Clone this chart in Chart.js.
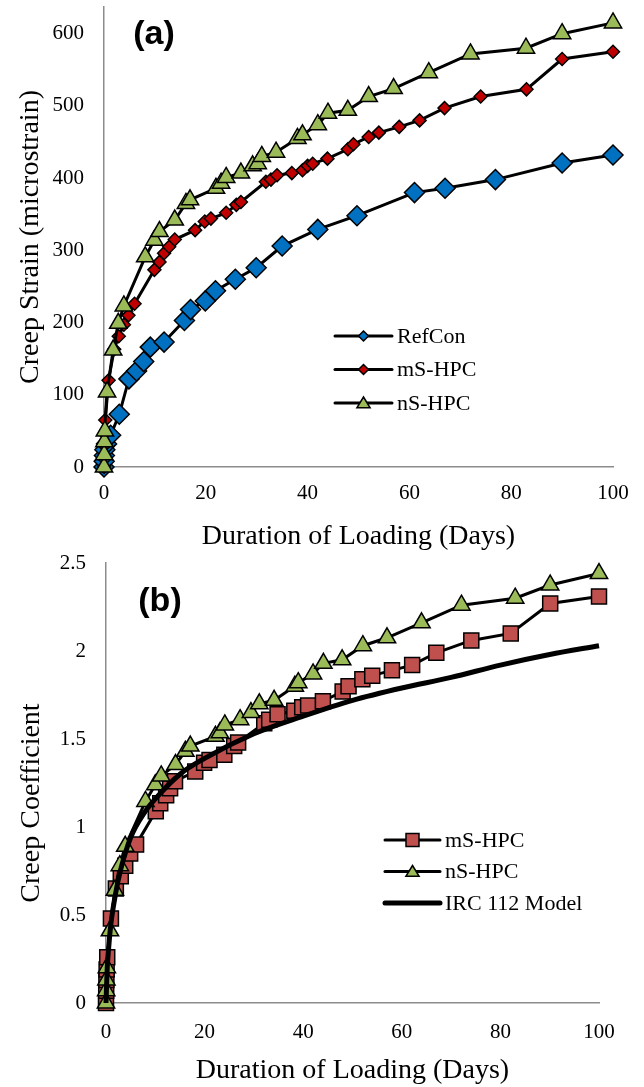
<!DOCTYPE html>
<html><head><meta charset="utf-8">
<script src="https://cdn.jsdelivr.net/npm/chart.js@4.4.1/dist/chart.umd.min.js"></script>
<style>html,body{margin:0;padding:0;background:#fff;} .p{position:absolute;left:0;}</style>
</head><body>
<div class="p" style="top:0;width:644px;height:553px"><canvas id="ca" width="644" height="553"></canvas></div>
<div class="p" style="top:550px;width:644px;height:537px"><canvas id="cb" width="644" height="537"></canvas></div>
<script>
// ---------- Data: panel (a) creep strain (microstrain) ----------
const refConDays   = [0, 0.04, 0.08, 0.17, 0.5, 1.3, 3.0, 4.9, 6.4, 7.8, 9.1, 11.8, 15.8, 17.0, 19.9, 21.9, 25.8, 29.9, 35.0, 42.0, 49.7, 61.0, 67.0, 76.9, 90.0, 100];
const refConStrain = [0, 8, 16, 24, 32, 44, 73, 122, 133, 146, 166, 173, 203, 218, 230, 244, 260, 276, 306, 329, 348, 380, 386, 398, 421, 432];

const msDaysA   = [0, 0.04, 0.08, 0.125, 0.25, 0.9, 2.0, 2.9, 3.9, 4.8, 6.0, 9.9, 10.9, 11.8, 12.8, 13.9, 17.9, 19.8, 21.0, 24.0, 26.0, 26.9, 31.8, 32.8, 34.0, 36.9, 39.0, 40.0, 41.0, 43.9, 47.9, 49.0, 52.0, 54.0, 58.0, 62.0, 66.9, 74.0, 83.0, 90.0, 100];
const msStrain  = [0, 16, 30, 46, 65, 120, 163, 181, 197, 210, 226, 273, 284, 296, 305, 315, 328, 340, 344, 352, 363, 367, 395, 398, 404, 407, 411, 417, 420, 427, 440, 447, 457, 463, 471, 480, 497, 513, 523, 565, 575];

const nsDaysA   = [0, 0.04, 0.08, 0.17, 0.6, 1.8, 2.8, 3.9, 8.1, 9.9, 10.9, 13.9, 16.1, 16.9, 22.0, 23.0, 24.0, 26.9, 29.2, 30.2, 31.0, 33.8, 38.0, 39.0, 42.0, 44.0, 47.9, 52.0, 56.9, 63.8, 72.0, 82.9, 90.0, 100];
const nsStrain  = [0, 17, 35, 50, 104, 162, 199, 223, 291, 314, 326, 342, 365, 370, 386, 393, 401, 407, 417, 420, 430, 436, 455, 460, 474, 490, 494, 513, 524, 546, 572, 580, 600, 615];

// ---------- Data: panel (b) creep coefficient ----------
const msDaysB  = [0, 0.04, 0.08, 0.125, 0.25, 1.0, 2.0, 3.0, 3.9, 4.9, 6.1, 10.1, 11.0, 12.2, 13.0, 14.0, 18.1, 19.9, 21.0, 24.0, 26.0, 26.8, 32.1, 33.1, 34.8, 38.2, 39.8, 41.0, 44.0, 48.0, 49.2, 52.0, 54.0, 58.0, 62.1, 67.0, 74.1, 82.1, 90.1, 100];
const msCoef   = [0, 0.07, 0.13, 0.19, 0.26, 0.48, 0.65, 0.72, 0.78, 0.85, 0.90, 1.09, 1.135, 1.18, 1.22, 1.26, 1.315, 1.365, 1.38, 1.41, 1.46, 1.48, 1.59, 1.61, 1.64, 1.66, 1.68, 1.69, 1.715, 1.77, 1.80, 1.84, 1.86, 1.89, 1.92, 1.99, 2.06, 2.10, 2.27, 2.31];

const nsDaysB  = [0, 0.04, 0.08, 0.17, 0.8, 1.8, 2.8, 3.9, 8.0, 10.0, 11.2, 14.1, 16.1, 17.1, 22.2, 23.1, 24.1, 27.2, 29.4, 31.1, 34.1, 38.3, 39.0, 42.0, 44.1, 47.9, 52.1, 57.0, 64.0, 72.1, 83.0, 90.1, 100];
const nsCoef   = [0, 0.07, 0.13, 0.2, 0.41, 0.64, 0.78, 0.89, 1.145, 1.24, 1.29, 1.355, 1.43, 1.46, 1.515, 1.535, 1.58, 1.61, 1.65, 1.70, 1.72, 1.80, 1.82, 1.87, 1.93, 1.95, 2.03, 2.075, 2.16, 2.26, 2.30, 2.375, 2.44];

const ircDays  = [0, 0.25, 0.5, 1, 2, 3, 5, 8, 10, 15, 20, 30, 40, 50, 60, 70, 80, 90, 100];
const ircCoef  = [0, 0.2, 0.3, 0.45, 0.63, 0.76, 0.94, 1.09, 1.16, 1.30, 1.39, 1.53, 1.63, 1.72, 1.79, 1.85, 1.92, 1.98, 2.03];

const xTicks  = [0, 20, 40, 60, 80, 100];
const yTicksA = [0, 100, 200, 300, 400, 500, 600];
const yTicksB = [0, 0.5, 1, 1.5, 2, 2.5];

// ---------- helpers ----------
const SERIF = '"Liberation Serif", "Times New Roman", serif';
function pts(xs, ys) { return xs.map((x, i) => ({x: x, y: ys[i]})); }

function drawMarker(ctx, style, x, y, r, fill, stroke, lw) {
  ctx.beginPath();
  if (style === 'rectRot') {
    ctx.moveTo(x, y - r); ctx.lineTo(x + r, y); ctx.lineTo(x, y + r); ctx.lineTo(x - r, y); ctx.closePath();
  } else if (style === 'rect') {
    ctx.rect(x - r, y - r, 2 * r, 2 * r);
  } else if (style === 'triangle') {
    ctx.moveTo(x, y - r); ctx.lineTo(x + r * 1.1, y + r * 0.8); ctx.lineTo(x - r * 1.1, y + r * 0.8); ctx.closePath();
  }
  ctx.fillStyle = fill; ctx.fill();
  ctx.lineWidth = lw; ctx.strokeStyle = stroke; ctx.stroke();
}

const panelLabel = {
  id: 'panelLabel',
  afterDraw(chart, args, o) {
    const ctx = chart.ctx;
    ctx.save();
    ctx.font = 'bold 34px "Liberation Sans", Arial, sans-serif';
    ctx.fillStyle = '#000'; ctx.textAlign = 'center'; ctx.textBaseline = 'middle';
    ctx.fillText(o.text, o.x, o.y);
    if (o.yTitle) {
      ctx.translate(o.yTitleX, o.yTitleY);
      ctx.rotate(-Math.PI / 2);
      ctx.font = '28px ' + SERIF;
      ctx.fillText(o.yTitle, 0, 0);
    }
    ctx.restore();
  }
};

const insideLegend = {
  id: 'insideLegend',
  afterDraw(chart, args, o) {
    const ctx = chart.ctx;
    chart.data.datasets.forEach((ds, i) => {
      const y = o.y + i * o.gap;
      ctx.save();
      ctx.strokeStyle = ds.borderColor; ctx.lineWidth = ds.borderWidth; ctx.lineCap = 'round';
      ctx.beginPath(); ctx.moveTo(o.x, y); ctx.lineTo(o.x + o.len, y); ctx.stroke();
      if (ds.pointRadius > 0) drawMarker(ctx, ds.pointStyle, o.x + o.len / 2, y, o.r[i], ds.pointBackgroundColor, '#000', 1.5);
      ctx.font = '22px ' + SERIF; ctx.fillStyle = '#000'; ctx.textAlign = 'left'; ctx.textBaseline = 'middle';
      ctx.fillText(ds.label, o.x + o.len + 5, y + 1);
      ctx.restore();
    });
  }
};

function series(label, data, style, r, color, order, extra) {
  return Object.assign({
    label: label, data: data, order: order,
    borderColor: '#000', borderWidth: 3, tension: 0,
    pointStyle: style, pointRadius: r, pointHoverRadius: r,
    pointBackgroundColor: color, pointBorderColor: '#000', pointBorderWidth: 1.5,
    clip: false, showLine: true
  }, extra || {});
}

function axes(yMin, yMax, yTicks, yTitle, xH, yW, yTitlePad, showYTitle, xTickPad) {
  return {
    x: {
      type: 'linear', min: 0, max: 100,
      afterBuildTicks: s => { s.ticks = xTicks.map(v => ({value: v})); },
      afterFit: s => { s.height = xH; s.paddingLeft = 0; s.paddingRight = 0; },
      grid: {display: false, drawTicks: false},
      border: {display: true, color: '#8c8c8c', width: 1.5},
      ticks: {font: {family: SERIF, size: 21}, color: '#000', padding: xTickPad, maxRotation: 0, callback: v => String(v)},
      title: {display: true, text: 'Duration of Loading (Days)', font: {family: SERIF, size: 28}, color: '#000', padding: {top: 0, bottom: 0}}
    },
    y: {
      type: 'linear', min: yMin, max: yMax,
      afterBuildTicks: s => { s.ticks = yTicks.map(v => ({value: v})); },
      afterFit: s => { s.width = yW; s.paddingTop = 0; s.paddingBottom = 0; },
      grid: {display: false, drawTicks: false},
      border: {display: true, color: '#8c8c8c', width: 1.5},
      ticks: {font: {family: SERIF, size: 21}, color: '#000', padding: 20, callback: v => String(v)},
      title: {display: showYTitle, text: yTitle, font: {family: SERIF, size: 28}, color: '#000', padding: {top: yTitlePad, bottom: 0}}
    }
  };
}

// ---------- Chart (a) ----------
new Chart(document.getElementById('ca'), {
  type: 'line',
  data: {
    datasets: [
      series('RefCon', pts(refConDays, refConStrain), 'rectRot', 10, '#0070C0', 3),
      series('mS-HPC', pts(msDaysA, msStrain), 'rectRot', 6.5, '#C00000', 2),
      series('nS-HPC', pts(nsDaysA, nsStrain), 'triangle', 10, '#9BBB59', 1)
    ]
  },
  options: {
    responsive: false, animation: false, devicePixelRatio: 1,
    layout: {autoPadding: false, padding: {top: 7, right: 31, left: 0, bottom: 0}},
    scales: axes(0, 637, yTicksA, 'Creep Strain (microstrain)', 86, 104, 14, true, 14),
    plugins: {
      legend: {display: false}, tooltip: {enabled: false},
      panelLabel: {text: '(a)', x: 154, y: 35},
      insideLegend: {x: 335, y: 336, gap: 33.5, len: 57, r: [5, 5, 6]}
    }
  },
  plugins: [panelLabel, insideLegend]
});

// ---------- Chart (b) ----------
new Chart(document.getElementById('cb'), {
  type: 'line',
  data: {
    datasets: [
      series('mS-HPC', pts(msDaysB, msCoef), 'rect', 10.6, '#C0504D', 3),
      series('nS-HPC', pts(nsDaysB, nsCoef), 'triangle', 10, '#9BBB59', 2),
      series('IRC 112 Model', pts(ircDays, ircCoef), 'circle', 0, '#000', 1, {borderWidth: 5, cubicInterpolationMode: 'monotone'})
    ]
  },
  options: {
    responsive: false, animation: false, devicePixelRatio: 1,
    layout: {autoPadding: false, padding: {top: 13, right: 45, left: 0, bottom: 0}},
    scales: axes(0, 2.5, yTicksB, 'Creep Coefficient', 84, 106, 14, false, 17),
    plugins: {
      legend: {display: false}, tooltip: {enabled: false},
      panelLabel: {text: '(b)', x: 160, y: 52, yTitle: 'Creep Coefficient', yTitleX: 32, yTitleY: 253},
      insideLegend: {x: 385, y: 290, gap: 31.5, len: 55, r: [6.5, 6, 0]}
    }
  },
  plugins: [panelLabel, insideLegend]
});
</script>
</body></html>
